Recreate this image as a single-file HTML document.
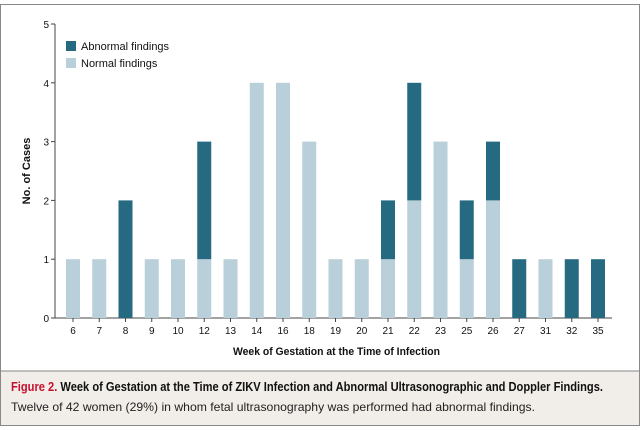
<!DOCTYPE html>
<html><head><meta charset="utf-8"><style>
body{margin:0;width:640px;height:430px;overflow:hidden;background:#fff;font-family:"Liberation Sans",sans-serif;}
</style></head><body>
<svg width="640" height="430" style="position:absolute;left:0;top:0">
<rect x="0.5" y="4.5" width="639" height="421" fill="#fff" stroke="#888"/>
<rect x="1" y="371" width="638" height="54" fill="#f1ede8"/>
<line x1="0" y1="371" x2="640" y2="371" stroke="#888"/>
<text x="11" y="391" font-size="12.5" font-weight="bold" textLength="592" lengthAdjust="spacingAndGlyphs"><tspan fill="#c8102e">Figure 2.</tspan><tspan fill="#111"> Week of Gestation at the Time of ZIKV Infection and Abnormal Ultrasonographic and Doppler Findings.</tspan></text>
<text x="11" y="411" font-size="12" fill="#222" textLength="524" lengthAdjust="spacingAndGlyphs">Twelve of 42 women (29%) in whom fetal ultrasonography was performed had abnormal findings.</text>
<g id="plot"></g>
<text transform="translate(30,171) rotate(-90)" text-anchor="middle" font-size="11" font-weight="bold" fill="#111">No. of Cases</text>
<text x="233" y="355" font-size="11" font-weight="bold" fill="#111" textLength="207" lengthAdjust="spacingAndGlyphs">Week of Gestation at the Time of Infection</text>
<rect x="66" y="41" width="10" height="10" fill="#256a80"/>
<text x="81" y="50" font-size="11" fill="#111">Abnormal findings</text>
<rect x="66" y="58" width="10" height="10" fill="#b9cfda"/>
<text x="81" y="67" font-size="11" fill="#111">Normal findings</text>
</svg>
<script>
const categories=["6","7","8","9","10","12","13","14","16","18","19","20","21","22","23","25","26","27","31","32","35"];
const normalValues=[1,1,0,1,1,1,1,4,4,3,1,1,1,2,3,1,2,0,1,0,0];
const abnormalValues=[0,0,2,0,0,2,0,0,0,0,0,0,1,2,0,1,1,1,0,1,1];
const yTicks=[0,1,2,3,4,5];
const NS="http://www.w3.org/2000/svg";
const g=document.getElementById('plot');
const x0=55,x1=612,yBase=318,yTop=24,yMax=5;
const step=(598-73)/(categories.length-1);
function xs(i){return 73+i*step;}
function ys(v){return yBase-(yBase-yTop)*v/yMax;}
function mk(t,a){const e=document.createElementNS(NS,t);for(const k in a)e.setAttribute(k,a[k]);g.appendChild(e);return e;}
let e=mk('line',{x1:x0,y1:yTop,x2:x0,y2:yBase,stroke:'#444'});


e=mk('line',{x1:x0,y1:yBase,x2:x1,y2:yBase,stroke:'#444'});


yTicks.forEach(v=>{
 let t=mk('line',{x1:x0-4,y1:ys(v),x2:x0,y2:ys(v),stroke:'#444'});
 
 
 let l=mk('text',{x:x0-6,y:ys(v)+4,'text-anchor':'end','font-size':'10',fill:'#111'});
 l.textContent=v;
 
 
});
const bw=14;
categories.forEach((c,i)=>{
 const cx=xs(i);
 let t=mk('line',{x1:cx,y1:yBase,x2:cx,y2:yBase+4,stroke:'#444'});
 
 
 let l=mk('text',{x:cx,y:yBase+16,'text-anchor':'middle','font-size':'10',fill:'#111'});
 l.textContent=c;
 
 
 const n=normalValues[i],a=abnormalValues[i];
 if(n>0){
  let r=mk('rect',{x:cx-bw/2,y:ys(n),width:bw,height:ys(0)-ys(n),fill:'#b9cfda'});
  
  
 }
 if(a>0){
  let r=mk('rect',{x:cx-bw/2,y:ys(n+a),width:bw,height:ys(n)-ys(n+a),fill:'#256a80'});
  
  
 }
});
</script>
</body></html>
